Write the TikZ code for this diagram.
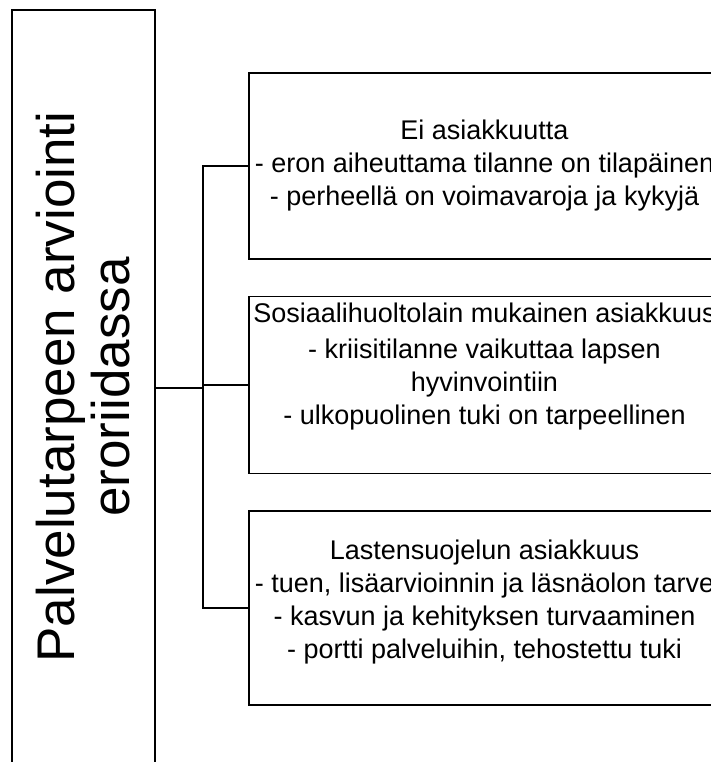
\documentclass[tikz,border=0pt]{standalone}
\usepackage{fontspec}
\setmainfont{Liberation Sans}
\usetikzlibrary{positioning}

\begin{document}
\begin{tikzpicture}[
        x=1pt,y=-1pt,
        line width=1.6pt,
        casebox/.style={draw,minimum width=471pt,align=center,inner sep=0pt,
            font=\fontsize{27}{33}\selectfont}
    ]
        \useasboundingbox (0,0) rectangle (711,762);
        \clip (0,0) rectangle (711,762);
        \node[draw,minimum width=143pt,minimum height=800pt,inner sep=0pt] (main) at (83.5,410) {};
        \node[rotate=90,align=center,font=\fontsize{53}{55}\selectfont] (mainlabel) at (83.5,387)
            {Palvelutarpeen arviointi\\eroriidassa};
        \coordinate (hub) at (203,388);
        \node[casebox,minimum height=186pt] (noclient) at (484.5,166)
            {Ei asiakkuutta\\- eron aiheuttama tilanne on tilapäinen\\- perheellä on voimavaroja ja kykyjä};
        \node[casebox,minimum height=177pt,below=36pt of noclient] (socclient)
            {Sosiaalihuoltolain mukainen asiakkuus\\[3pt]- kriisitilanne vaikuttaa lapsen\\hyvinvointiin\\- ulkopuolinen tuki on tarpeellinen\\[10pt]~};
        \node[casebox,minimum height=194pt,below=36pt of socclient] (childclient)
            {Lastensuojelun asiakkuus\\- tuen, lisäarvioinnin ja läsnäolon tarve\\- kasvun ja kehityksen turvaaminen\\- portti palveluihin, tehostettu tuki\\[-15pt]~};
        \draw (main.east |- hub) -- (hub);
        \draw (noclient.west) -| (hub);
        \draw (childclient.west) -| (hub);
        \draw (socclient.west) -- (socclient.west -| hub);
    \end{tikzpicture}
\end{document}
